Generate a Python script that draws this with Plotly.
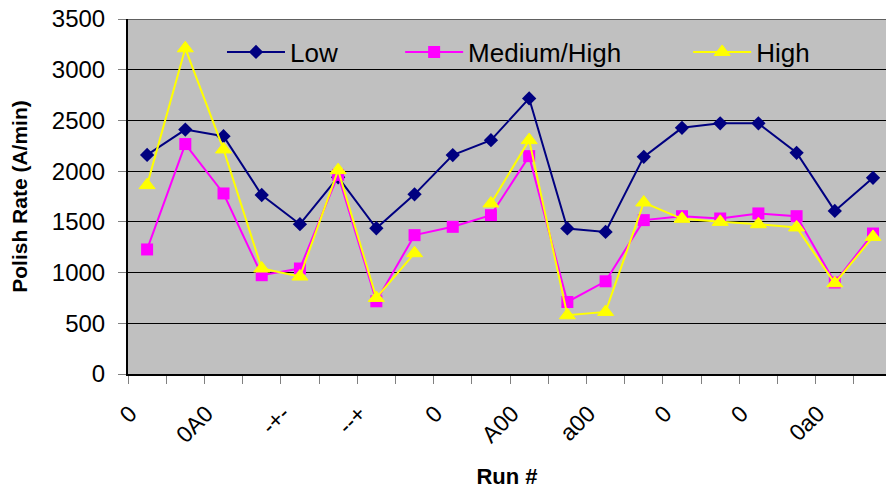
import plotly.graph_objects as go

# Run numbers and their axis labels (only every other run is labelled)
runs = list(range(1, 21))
run_labels = ["0", "", "0A0", "", "-+-", "", "--+", "", "0", "",
              "A00", "", "a00", "", "0", "", "0", "", "0a0", ""]

# Polish rate (A/min) for each pressure setting
low = [2160, 2410, 2345, 1765, 1477, 1940, 1437, 1771, 2158, 2305,
       2717, 1435, 1401, 2141, 2427, 2471, 2471, 2181, 1608, 1934]
medium_high = [1228, 2267, 1780, 974, 1040, 1963, 717, 1369, 1451, 1566,
               2148, 710, 914, 1517, 1556, 1533, 1583, 1556, 902, 1385]
high = [1862, 3211, 2214, 1040, 961, 2010, 750, 1191, None, 1681,
        2306, 579, 612, 1691, 1530, 1500, 1477, 1445, 895, 1352]

FONT = "Arial, Liberation Sans, sans-serif"

fig = go.Figure()
fig.add_trace(go.Scatter(
    x=runs, y=low, name="Low", mode="lines+markers", legend="legend",
    line=dict(color="#000080", width=2),
    marker=dict(symbol="diamond", size=11, color="#000080", line=dict(width=0)),
))
fig.add_trace(go.Scatter(
    x=runs, y=medium_high, name="Medium/High", mode="lines+markers", legend="legend2",
    line=dict(color="#FF00FF", width=2),
    marker=dict(symbol="square", size=12, color="#FF00FF", line=dict(width=0)),
))
fig.add_trace(go.Scatter(
    x=runs, y=high, name="High", mode="lines+markers", connectgaps=False, legend="legend3",
    line=dict(color="#FFFF00", width=2),
    marker=dict(symbol="triangle-up", size=14, color="#FFFF00",
                line=dict(width=1, color="#FFFF00")),
))

# One legend box per series so each entry sits at its own spot across the top
legend_style = dict(
    orientation="h", y=0.907, xanchor="left", yanchor="middle",
    bgcolor="rgba(0,0,0,0)", font=dict(size=26, family=FONT, color="black"),
    itemwidth=58,
)

fig.update_layout(
    width=886, height=489,
    margin=dict(l=128, r=0, t=19, b=115),
    paper_bgcolor="white",
    plot_bgcolor="#C0C0C0",
    font=dict(family=FONT, color="black"),
    showlegend=True,
    legend=dict(x=0.124, **legend_style),
    legend2=dict(x=0.359, **legend_style),
    legend3=dict(x=0.739, **legend_style),
    xaxis=dict(
        range=[0.5, 20.34],
        tickmode="array", tickvals=runs, ticktext=run_labels,
        tickangle=-45, tickfont=dict(size=23, family=FONT),
        ticklabelshift=-17, ticklabelstandoff=15,
        ticks="", showgrid=False,
        showline=True, linecolor="black", linewidth=2,
        minor=dict(tick0=0.5, dtick=1, ticks="outside", ticklen=8,
                   tickcolor="#808080", tickwidth=1, showgrid=False),
        title=dict(text="<b>Run #</b>", font=dict(size=22, family=FONT), standoff=24),
        zeroline=False,
    ),
    yaxis=dict(
        range=[0, 3500], dtick=500,
        tickfont=dict(size=24, family=FONT),
        ticks="outside", ticklen=8, tickcolor="#808080",
        ticklabelstandoff=8,
        showgrid=True, gridcolor="black", gridwidth=1,
        showline=True, linecolor="black", linewidth=2,
        zeroline=False,
        title=dict(text="<b>Polish Rate (A/min)</b>", font=dict(size=21, family=FONT), standoff=18),
    ),
    shapes=[dict(type="line", xref="paper", yref="y", x0=0, x1=1, y0=3500, y1=3500,
                 line=dict(color="black", width=1), layer="below")],
)

fig.write_html("out.html")
